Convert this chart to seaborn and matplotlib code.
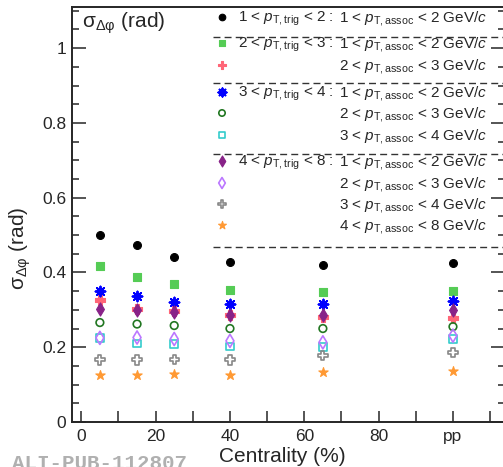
import matplotlib
matplotlib.use("Agg")
import matplotlib.pyplot as plt
import seaborn as sns
from matplotlib.ticker import AutoMinorLocator

# centrality bin centres (%), pp drawn at 100
centrality = [5, 15, 25, 40, 65, 100]
xtick_values = [0, 10, 20, 30, 40, 50, 60, 70, 80, 90, 100, 110]
xtick_labels = ["0", "", "20", "", "40", "", "60", "", "80", "", "pp", ""]

# sigma_dphi (rad) per trigger/associated pT bin
sigma_t12_a12 = [0.499, 0.474, 0.441, 0.428, 0.419, 0.425]
sigma_t23_a12 = [0.416, 0.389, 0.369, 0.353, 0.347, 0.351]
sigma_t23_a23 = [0.325, 0.302, 0.298, 0.287, 0.280, 0.278]
sigma_t34_a12 = [0.351, 0.337, 0.320, 0.316, 0.316, 0.323]
sigma_t34_a23 = [0.266, 0.262, 0.258, 0.250, 0.250, 0.255]
sigma_t34_a34 = [0.224, 0.210, 0.208, 0.202, 0.201, 0.222]
sigma_t48_a12 = [0.302, 0.300, 0.293, 0.286, 0.286, 0.300]
sigma_t48_a23 = [0.225, 0.226, 0.222, 0.217, 0.213, 0.231]
sigma_t48_a34 = [0.166, 0.166, 0.168, 0.166, 0.177, 0.186]
sigma_t48_a48 = [0.125, 0.125, 0.128, 0.126, 0.134, 0.137]

trig_labels = [
    r"1 < $p_{\mathrm{T,trig}}$ < 2 :",
    r"2 < $p_{\mathrm{T,trig}}$ < 3 :",
    "",
    r"3 < $p_{\mathrm{T,trig}}$ < 4 :",
    "",
    "",
    r"4 < $p_{\mathrm{T,trig}}$ < 8 :",
    "",
    "",
    "",
]
assoc_labels = [
    r"1 < $p_{\mathrm{T,assoc}}$ < 2 GeV/$c$",
    r"1 < $p_{\mathrm{T,assoc}}$ < 2 GeV/$c$",
    r"2 < $p_{\mathrm{T,assoc}}$ < 3 GeV/$c$",
    r"1 < $p_{\mathrm{T,assoc}}$ < 2 GeV/$c$",
    r"2 < $p_{\mathrm{T,assoc}}$ < 3 GeV/$c$",
    r"3 < $p_{\mathrm{T,assoc}}$ < 4 GeV/$c$",
    r"1 < $p_{\mathrm{T,assoc}}$ < 2 GeV/$c$",
    r"2 < $p_{\mathrm{T,assoc}}$ < 3 GeV/$c$",
    r"3 < $p_{\mathrm{T,assoc}}$ < 4 GeV/$c$",
    r"4 < $p_{\mathrm{T,assoc}}$ < 8 GeV/$c$",
]

series = [
    sigma_t12_a12, sigma_t23_a12, sigma_t23_a23, sigma_t34_a12, sigma_t34_a23,
    sigma_t34_a34, sigma_t48_a12, sigma_t48_a23, sigma_t48_a34, sigma_t48_a48,
]

# marker, colour, filled, size, line width
styles = [
    ("o", "#000000", True, 32, 0.8),
    ("s", "#55cc55", True, 30, 0.8),
    ("P", "#ff6677", True, 42, 0.8),
    ((8, 2, 0), "#0000ff", True, 50, 1.4),
    ("o", "#227722", False, 30, 1.2),
    ("s", "#33cccc", False, 30, 1.2),
    ("d", "#882288", True, 45, 0.8),
    ("d", "#bb77ff", False, 45, 1.2),
    ("P", "#888888", False, 45, 1.2),
    ("*", "#ff9933", True, 50, 0.8),
]

sns.set_style("ticks")
plt.rcParams["font.family"] = ["Liberation Sans", "DejaVu Sans"]
plt.rcParams["mathtext.fontset"] = "custom"
plt.rcParams["mathtext.rm"] = "Liberation Sans"
plt.rcParams["mathtext.it"] = "Liberation Sans:italic"
plt.rcParams["mathtext.bf"] = "Liberation Sans:bold"

fig = plt.figure(figsize=(5.03, 4.67), dpi=100)
ax = fig.add_axes([72 / 503, 45 / 467, 433 / 503, 415 / 467])

for vals, (m, c, filled, s, lw) in zip(series, styles):
    if filled:
        sns.scatterplot(x=centrality, y=vals, marker=m, s=s, color=c,
                        edgecolor=c, linewidth=lw, ax=ax, zorder=3)
    else:
        sns.scatterplot(x=centrality, y=vals, marker=m, s=s, color=c,
                        facecolors="none", edgecolor=c, linewidth=lw, ax=ax, zorder=3)

ax.set_xlim(-2.5, 114)
ax.set_ylim(0, 1.11)
ax.set_xticks(xtick_values)
ax.set_xticklabels(xtick_labels)
ax.set_yticks([0, 0.2, 0.4, 0.6, 0.8, 1.0])
ax.set_yticklabels(["0", "0.2", "0.4", "0.6", "0.8", "1"])
ax.yaxis.set_minor_locator(AutoMinorLocator(4))
ax.tick_params(axis="y", which="major", direction="in", length=10, width=1.1,
               labelsize=12.5, pad=4, right=True)
ax.tick_params(axis="y", which="minor", direction="in", length=5, width=1.1, right=True)
ax.tick_params(axis="x", which="major", direction="in", length=8, width=1.1,
               labelsize=12.5, pad=5)
for sp in ax.spines.values():
    sp.set_linewidth(1.4)

ax.set_xlabel("Centrality (%)", fontsize=15)
ax.xaxis.label.set_va("baseline")
ax.xaxis.set_label_coords(0.486, -0.0964)
ax.set_ylabel(r"$\mathrm{\sigma_{\Delta\varphi}}$ (rad)", fontsize=15)
ax.yaxis.label.set_va("center")
ax.yaxis.set_label_coords(-0.12, 0.419)

ax.text(10 / 433, (422 - 28) / 415, r"$\mathrm{\sigma_{\Delta\varphi}}$ (rad)",
        transform=ax.transAxes, fontsize=15, va="baseline", ha="left")

# ROOT-style legend block
row_px = [17, 43, 65, 92, 113, 135, 161, 183, 204, 225]
for ypx, (m, c, filled, s, lw), tl, al in zip(row_px, styles, trig_labels, assoc_labels):
    ya = (422 - ypx) / 415
    ax.scatter([(222 - 72) / 433], [ya], marker=m, s=s * 0.7, color=c,
               facecolors=(c if filled else "none"), edgecolors=c,
               linewidths=lw, transform=ax.transAxes,
               clip_on=False, zorder=4)
    yb = (422 - ypx - 5) / 415
    if tl:
        ax.text((238 - 72) / 433, yb, tl, transform=ax.transAxes, fontsize=11,
                va="baseline", ha="left")
    ax.text((339 - 72) / 433, yb, al, transform=ax.transAxes, fontsize=11,
            va="baseline", ha="left")

for ypx in [37, 83, 154, 247]:
    ya = (422 - ypx) / 415
    ax.plot([(213 - 72) / 433, 1.0], [ya, ya], transform=ax.transAxes,
            color="#333333", lw=1.0, ls=(0, (5, 3)), clip_on=False)

fig.text(12 / 503, -2 / 467, "ALI-PUB-112807", fontsize=15, color="#b0b0b0",
         family="Liberation Mono", weight="bold", va="baseline", ha="left")

fig.savefig("out.png", dpi=100)
